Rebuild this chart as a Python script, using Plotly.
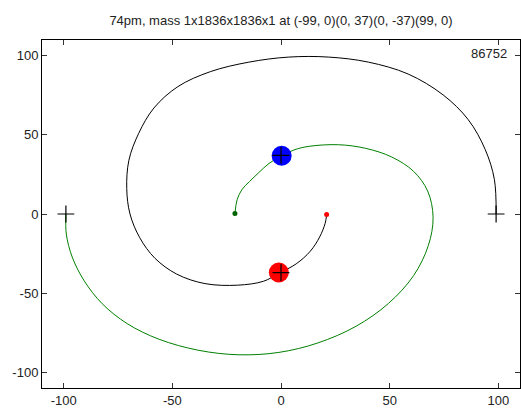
import plotly.graph_objects as go

title_text = "74pm, mass 1x1836x1836x1 at (-99, 0)(0, 37)(0, -37)(99, 0)"
step_label = "86752"

# trajectory of particle starting at (99, 0) -> ends near (21, 0)
black_x = [99, 98.2, 94.0, 86.2, 74.6, 58.5, 40.3, 22.0, 3.6, -14.8, -32.5, -47.5, -58.5,
           -65.5, -70.0, -71.0, -69.5, -65.0, -58.0, -48.0, -35.0, -20.0, -8.0, -1.0,
           7.0, 13.5, 17.8, 20.3, 21.0]
black_y = [0, 21.9, 40.7, 59.6, 75.3, 88.5, 96.0, 99.2, 99.2, 96.0, 90.0, 80.5, 67.0,
           51.0, 34.0, 16.0, 0.0, -15.0, -28.0, -38.0, -44.0, -45.0, -42.5, -37.5,
           -31.5, -23.5, -14.5, -6.0, -0.5]

# trajectory of particle starting at (-99, 0) -> ends near (-21, 0)
green_x = [-99, -98.8, -96.1, -90.6, -82.3, -70.8, -56.1, -37.8, -19.4, -1.0, 17.0, 34.5,
           49.5, 61.0, 67.8, 70.0, 67.5, 61.0, 51.0, 39.0, 26.5, 13.0, 6.0, 0.3,
           -5.5, -10.2, -14.5, -17.9, -20.2, -21.2]
green_y = [0, -12.7, -27.2, -42.2, -56.7, -69.3, -79.2, -86.2, -89.0, -87.5, -81.5, -71.0,
           -56.5, -39.0, -20.0, -2.0, 14.5, 27.0, 36.0, 41.5, 43.8, 42.8, 40.5, 36.8,
           32.0, 26.2, 20.5, 15.6, 9.0, 0.3]

# initial positions
start_x = [-99, 0, 0, 99]
start_y = [0, 37, -37, 0]

# current positions
heavy_x = [0.3, -1]
heavy_y = [36.8, -37]
heavy_colors = ["#0000ff", "#ff0000"]
light_x = [-21.2, 21.0]
light_y = [0.3, -0.3]
light_colors = ["#006400", "#ff0000"]

tick_vals = [-100, -50, 0, 50, 100]
tick_text = ["-100", "-50", "0", "50", "100"]

fig = go.Figure()
fig.add_trace(go.Scatter(x=black_x, y=black_y, mode="lines",
                         line=dict(color="black", width=1, shape="spline", smoothing=1.0)))
fig.add_trace(go.Scatter(x=green_x, y=green_y, mode="lines",
                         line=dict(color="#008000", width=1, shape="spline", smoothing=1.0)))
fig.add_trace(go.Scatter(x=heavy_x, y=heavy_y, mode="markers",
                         marker=dict(size=20, color=heavy_colors, line=dict(width=0))))
fig.add_trace(go.Scatter(x=light_x, y=light_y, mode="markers",
                         marker=dict(size=5, color=light_colors, line=dict(width=0))))
fig.add_trace(go.Scatter(x=start_x, y=start_y, mode="markers",
                         marker=dict(symbol="cross-thin", size=12, color="black",
                                     line=dict(color="black", width=1.2))))

axis_common = dict(
    showgrid=False, zeroline=False, showline=True, linecolor="black", linewidth=1,
    mirror="ticks", ticks="inside", ticklen=5, tickcolor="#333333",
    tickvals=tick_vals, ticktext=tick_text,
    tickfont=dict(family="Liberation Sans, Arial", size=13, color="#222222"),
)

fig.update_layout(
    width=521, height=408,
    margin=dict(l=42, r=0, t=40, b=18),
    paper_bgcolor="white", plot_bgcolor="white",
    showlegend=False,
    font=dict(family="Liberation Sans, Arial", size=13, color="#222222"),
    title=dict(text=title_text, x=0.5, xref="paper", y=1 - 20 / 408, yref="container",
               xanchor="center", yanchor="middle",
               font=dict(family="Liberation Sans, Arial", size=13, color="#222222")),
    xaxis=dict(range=[-110, 110], **axis_common),
    yaxis=dict(range=[-110, 110], **axis_common),
    annotations=[dict(text=step_label, xref="paper", yref="paper", x=0.977, y=0.96,
                      xanchor="right", yanchor="middle", showarrow=False,
                      font=dict(family="Liberation Sans, Arial", size=13, color="#222222"))],
)

fig.write_html("out.html")
